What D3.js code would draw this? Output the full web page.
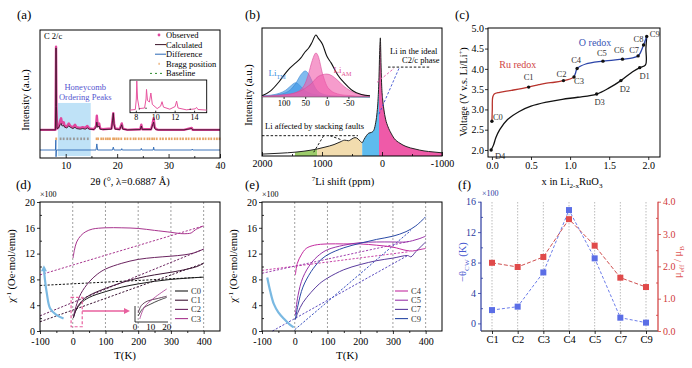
<!DOCTYPE html>
<html><head><meta charset="utf-8">
<script src="https://cdn.jsdelivr.net/npm/d3@7"></script>
<style>
body{margin:0;background:#fff;}
svg{display:block;}
</style></head><body>
<svg id="c" width="692" height="368"></svg>
<script>
// ================= DATA =================
// (a) XRD
const xrdTheta = [5,8.0,8.05,8.12,8.2,8.3,8.6,8.9,9.1,9.3,9.6,9.8,10.2,10.6,10.9,11.4,11.8,12.1,12.8,13.3,13.8,14.2,14.6,15.5,15.9,16.05,16.2,16.5,16.7,17.2,18.9,19.1,19.25,19.4,19.6,20.5,20.9,21.1,22,24.5,24.7,24.9,26.6,26.9,27.1,27.3,27.6,28,33,34.5,34.7,40];
const xrdObs   = [22,22,40,87,40,23,24,29,31,27,28,25,24.5,27,25,24,26,24,23.5,24,23.5,25,23,22.5,25,33,26,27,23,22.5,23,30,35,27,23,22.5,27,23,22,22.5,26,22.5,22.5,27,31,24,22.5,22,22,23.5,22,22];
const xrdCalc  = [22,22,40,86,40,23,23.5,26,27,25,25.5,24,23.5,25,24,23,24,23,22.5,23,22.5,23.5,22.5,22.2,24,28,24,25,22.5,22.2,22.5,29,35,26,22.5,22.2,26,22.5,22,22.2,25,22.2,22.2,26,28,23,22.2,22,22,23,22,22];
const diffTheta = [5,8.0,8.08,8.12,8.2,15.9,16.05,16.2,19.1,19.25,19.4,20.8,20.9,21.0,24.6,24.7,24.8,27.0,27.1,27.2,34.5,34.6,34.7,40];
const diffVal   = [6.25,6.25,14,1,6.25,6.25,11,6.25,6.25,8.5,6.25,6.25,7.3,6.25,6.25,7.5,6.25,6.25,8.5,6.25,6.25,7,6.25,6.25];
const braggPos = [8.15,9.0,9.6,10.3,10.9,11.6,12.3,13.0,13.6,14.3,16.0,16.3,16.9,17.3,17.8,18.2,18.6,19.2,19.5,19.9,20.3,20.8,21.5,22.0,22.6,23.2,23.6,24.2,24.7,25.3,25.9,26.3,26.8,27.2,27.7,28.4,28.9,29.5,30.1,30.6,31.2,31.7,32.3,32.8,33.4,33.9,34.5,35.0,35.6,36.1,36.7,37.2,37.8,38.3,38.9,39.4,39.9];
const honeyRange = [8.47, 14.86];
const insATheta = [7.4,7.95,8.05,8.1,8.18,8.35,8.9,9.05,9.1,9.2,9.4,9.55,9.7,10.2,10.55,10.7,10.85,11.5,12.05,12.2,12.35,13.2,14.1,14.25,14.4,15.3];
const insAInt   = [.03,.05,.4,1.0,.4,.08,.1,.4,.72,.35,.3,.6,.22,.08,.16,.31,.13,.06,.15,.33,.1,.04,.07,.12,.05,.03];
const aTicks = [10,20,30,40], aInsTicks = [8,10,12,14];
const aLegend = ['Observed','Calculated','Difference','Bragg position','Baseline'];

// (b) 7Li NMR
const specPpm = [2000,1700,1450,1300,1200,1080,950,800,700,620,560,500,450,400,360,330,300,260,220,180,140,110,85,65,50,40,32,27,22,15,5,-10,-30,-60,-100,-150,-200,-300,-400,-550,-700,-850,-1000];
const specInt = [1.5,2.2,3,3.8,4.5,5.5,7,9,11,12.5,12,13.5,14.5,13.5,11.5,10.5,13,16,18,18.5,20,25,33,45,62,80,90,93,85,70,55,45,37,29,23,18,14,10,7.5,5.5,4,3.2,2.5];
const greenRange = [1450,1080], tanRange = [1080,330], blueRange = [330,50], pinkRange = [50,-1000];
const insBPpm = [150,130,110,95,85,72,60,50,42,35,25,20,10,0,-10,-25,-40,-50,-60,-80,-100];
const insBEnv = [.02,.1,.25,.39,.47,.55,.63,.73,.79,.87,1.0,.95,.85,.66,.55,.36,.23,.16,.10,.04,.02];
const insBTm1 = [.02,.03,.06,.11,.17,.23,.17,.10,.07,.05,.035,.03,.02,.015,.01,.01,.005,.005,0,0,0];
const insBTm2 = [.01,.02,.04,.07,.11,.22,.36,.42,.37,.27,.13,.09,.05,.03,.02,.015,.01,.01,.01,.005,0];
const insBAm1 = [.01,.01,.02,.03,.04,.07,.12,.22,.38,.56,.71,.66,.38,.18,.10,.05,.03,.025,.02,.01,.01];
const insBAm2 = [.01,.02,.03,.04,.05,.07,.10,.14,.18,.22,.30,.33,.36,.37,.35,.27,.17,.12,.08,.04,.02];
const bTicks = [2000,1000,0,-1000], bInsTicks = [100,50,0,-50];

// (c) charge / discharge
const chargeRu = [[0,2.71],[0.005,3.0],[0.01,3.3],[0.03,3.38],[0.1,3.42],[0.25,3.47],[0.47,3.55],[0.6,3.61],[0.7,3.65],[0.8,3.67],[0.915,3.71],[1.0,3.75],[1.05,3.8]];
const chargeO  = [[1.05,3.8],[1.07,3.9],[1.09,4.01],[1.2,4.12],[1.42,4.19],[1.67,4.24],[1.8,4.27],[1.87,4.32],[1.9,4.4],[1.94,4.59],[1.98,4.8]];
const discharge = [[1.98,4.8],[1.97,4.5],[1.965,4.1],[1.89,4.03],[1.8,3.93],[1.65,3.71],[1.5,3.53],[1.34,3.38],[1.1,3.3],[0.9,3.25],[0.7,3.18],[0.5,3.08],[0.35,2.95],[0.2,2.75],[0.1,2.5],[0.05,2.3],[0.02,2.12],[-0.01,2.0]];
const cNames = ['C0','C1','C2','C3','C4','C5','C6','C7','C8','C9','D1','D2','D3','D4'];
const cX = [0,0.47,0.915,1.05,1.09,1.42,1.67,1.87,1.94,1.98,1.89,1.65,1.34,-0.01];
const cV = [2.71,3.55,3.71,3.8,4.01,4.19,4.24,4.32,4.59,4.8,4.03,3.71,3.38,2.0];
const cXTicks = [0,0.5,1,1.5,2], cYTicks = [2,2.5,3,3.5,4,4.5,5];

// (d) inverse susceptibility C0-C3
const dC0 = [[2,2.0],[10,3.2],[25,4.3],[50,5.2],[100,6.1],[150,6.8],[200,7.3],[250,7.7],[300,8.0],[350,8.2],[400,8.35]];
const dC1 = [[2,2.1],[10,3.3],[25,4.5],[50,5.5],[100,6.6],[150,7.5],[200,8.2],[250,8.7],[300,9.1],[350,9.6],[380,10.0],[400,10.5]];
const dC2 = [[2,2.2],[10,3.8],[25,5.8],[50,7.6],[75,8.8],[100,9.6],[150,10.5],[200,11.1],[250,11.4],[300,11.6],[340,11.8],[370,12.1],[400,12.7]];
const dC3 = [[1,11.3],[5,12.5],[12,13.8],[25,14.8],[40,15.4],[60,15.8],[100,16.0],[150,16.0],[200,15.9],[250,15.6],[300,15.3],[330,15.1],[350,15.1],[362,15.2],[375,15.7],[400,16.3]];
const dFit = [[[-100,7.06],[400,8.35]],[[-100,1.43],[400,10.5]],[[-100,2.35],[400,12.7]],[[-100,8.7],[400,16.3]]];
const dArrow = [[-28,1.94],[-50,2.5],[-69,3.5],[-79,5.8],[-85,8],[-88,9.9]];
const dInsC = [[[2,0.2],[5,0.45],[10,0.6],[15,0.72],[20,0.82]],[[2,0.3],[4,0.55],[8,0.7],[14,0.78],[20,0.86]],[[3,0.1],[6,0.5],[12,0.8],[20,1.1]]];
const dNames = ['C0','C1','C2','C3'];

// (e) inverse susceptibility C4-C9
const eC4 = [[2,8.7],[8,10.5],[20,11.8],[35,12.8],[60,13.3],[100,13.5],[150,13.5],[200,13.5],[250,13.3],[300,13.0],[340,12.5],[360,12.4],[380,12.6],[400,12.8]];
const eC5 = [[2,2.5],[10,5.5],[25,8.3],[50,10.5],[75,11.8],[100,12.6],[150,13.3],[200,13.7],[250,13.8],[300,13.8],[340,13.8],[360,14.0],[380,14.3],[400,14.7]];
const eC7 = [[2,1.8],[10,2.9],[25,4.4],[50,6.0],[75,7.3],[100,8.2],[150,9.5],[200,10.3],[250,10.9],[300,11.3],[345,11.7],[355,11.5],[370,12.3],[400,13.8]];
const eC9 = [[2,1.8],[10,4.0],[25,6.8],[50,9.2],[75,10.8],[100,11.8],[150,12.9],[200,13.6],[250,14.2],[300,14.7],[340,15.4],[370,16.3],[400,17.7]];
const eFit = [[[-100,9.4],[350,12.3]],[[-100,8.95],[350,13.9]],[[-68,0],[345,11.7]],[[0,0.2],[355,15.6]]];
const eArrow = [[-84,8.3],[-75,6.2],[-64,4.2],[-50,2.9],[-33,1.9],[-15,1.0],[-3,0.55]];
const eNames = ['C4','C5','C7','C9'];
const tTicks = [-100,0,100,200,300,400], chiTicks = [0,4,8,12,16,20];

// (f) Curie-Weiss fit
const fCats = ['C1','C2','C3','C4','C5','C7','C9'];
const fTheta = [1.75,2.2,6.7,14.9,8.55,0.75,0.1];
const fMu = [2.11,1.98,2.29,3.46,2.64,1.65,1.36];
const fLeftTicks = [0,4,8,12,16], fRightTicks = [0,1,2,3,4];

// ================= HELPERS =================
const FONT = "'Liberation Serif','Times New Roman',serif";
const svg = d3.select('#c');
const plain = d => String(d);
function rich(g, x, y, parts, size, o={}) {
  const t = g.append('text').attr('x',x).attr('y',y).attr('font-size',size).attr('font-family',FONT)
    .attr('fill',o.fill||'#000').attr('text-anchor',o.anchor||'middle');
  if (o.rotate) t.attr('transform',`rotate(${o.rotate},${x},${y})`);
  let shift = 0;
  parts.forEach(p => {
    const [s,k] = Array.isArray(p) ? p : [p,null];
    const target = k==='sub' ? size*0.28 : k==='sup' ? -size*0.38 : 0;
    const ts = t.append('tspan').text(s).attr('dy', target - shift);
    if (k) ts.attr('font-size', size*0.68);
    shift = target;
  });
  return t;
}
function drawAxis(g, axis, tr, fs, color='#000') {
  const a = g.append('g').attr('transform',tr).call(axis);
  a.select('.domain').remove();
  a.selectAll('line').attr('stroke',color).attr('stroke-width',0.8);
  a.selectAll('text').attr('font-size',fs).attr('font-family',FONT).attr('fill',color);
  return a;
}
function frame(g, x0,y0,x1,y1) {
  g.append('rect').attr('x',x0).attr('y',y0).attr('width',x1-x0).attr('height',y1-y0)
   .attr('fill','none').attr('stroke','#000').attr('stroke-width',1);
}
// panel tags
[['(a)',17,19],['(b)',245,19],['(c)',455,19],['(d)',16,189],['(e)',245,189],['(f)',458,189]].forEach(([s,x,y]) =>
  svg.append('text').attr('x',x).attr('y',y).attr('font-size',13).attr('font-family',FONT).text(s));

// ================= (a) =================
(function(){
  const g = svg.append('g');
  const x = d3.scaleLinear().domain([5,40]).range([40,220]);
  const y = d3.scaleLinear().domain([0,100]).range([158,30]);
  g.append('rect').attr('x',x(honeyRange[0])).attr('width',x(honeyRange[1])-x(honeyRange[0]))
    .attr('y',y(43)).attr('height',y(1.5)-y(43)).attr('fill','#bfe2f7');
  g.selectAll('.br').data(braggPos).join('rect').attr('x',d=>x(d)-0.9).attr('y',y(16)).attr('width',1.8)
    .attr('height',y(14)-y(16)).attr('fill',d=>(d>honeyRange[0]&&d<honeyRange[1])?'#9a9a9a':'#e8a565');
  const line = d3.line().x(d=>x(d[0])).y(d=>y(d[1]));
  g.append('path').datum(d3.zip(diffTheta,diffVal)).attr('d',line).attr('fill','none').attr('stroke','#2a68b4').attr('stroke-width',0.9);
  g.append('path').datum(d3.zip(xrdTheta,xrdObs)).attr('d',line).attr('fill','none').attr('stroke','#e0479e').attr('stroke-width',2.4).attr('stroke-linejoin','round');
  g.append('path').datum(d3.zip(xrdTheta,xrdCalc)).attr('d',line).attr('fill','none').attr('stroke','#3b1428').attr('stroke-width',0.9);
  frame(g,40,30,220,158);
  drawAxis(g, d3.axisBottom(x).tickValues(aTicks).tickSize(-4).tickPadding(4), 'translate(0,158)', 10);
  drawAxis(g, d3.axisBottom(x).tickValues([15,25,35]).tickSize(-2).tickFormat(''), 'translate(0,158)', 10);
  g.append('text').attr('x',44).attr('y',39).attr('font-size',8.5).attr('font-family',FONT).text('C 2/c');
  // honeycomb text
  g.append('text').attr('x',x(13.8)).attr('y',90).attr('text-anchor','middle').attr('font-size',8.5).attr('font-family',FONT).attr('fill','#5656d0').text('Honeycomb');
  g.append('text').attr('x',x(13.8)).attr('y',100).attr('text-anchor','middle').attr('font-size',8.5).attr('font-family',FONT).attr('fill','#5656d0').text('Ordering Peaks');
  // legend
  aLegend.forEach((s,i)=>{
    const ly = 35 + i*9.6;
    if (i===0) g.append('circle').attr('cx',159).attr('cy',ly).attr('r',1.4).attr('fill','#e0479e');
    if (i===1) g.append('line').attr('x1',155).attr('x2',166).attr('y1',ly).attr('y2',ly).attr('stroke','#3b1428');
    if (i===2) g.append('line').attr('x1',155).attr('x2',166).attr('y1',ly).attr('y2',ly).attr('stroke','#2a68b4');
    if (i===3) g.append('rect').attr('x',158.5).attr('y',ly-1).attr('width',1.2).attr('height',2).attr('fill','#e8a565');
    if (i===4) g.append('line').attr('x1',150).attr('x2',164).attr('y1',ly).attr('y2',ly).attr('stroke','#2a8a2a').attr('stroke-dasharray','2,3');
    g.append('text').attr('x',166).attr('y',ly+3).attr('font-size',8.5).attr('font-family',FONT).text(s);
  });
  // inset
  const ix = d3.scaleLinear().domain([7.4,15.3]).range([130,206.7]);
  const iy = d3.scaleLinear().domain([0,1]).range([111,81]);
  g.append('rect').attr('x',130).attr('y',80).attr('width',76.7).attr('height',32.7).attr('fill','#fff').attr('stroke','#000').attr('stroke-width',0.9);
  g.append('path').datum(d3.zip(insATheta,insAInt)).attr('d',d3.line().x(d=>ix(d[0])).y(d=>iy(d[1]))).attr('fill','none').attr('stroke','#e8559f').attr('stroke-width',1);
  [[8.36,.07],[9.05,.09],[13.6,.06]].forEach(p=>g.append('circle').attr('cx',ix(p[0])).attr('cy',iy(p[1])).attr('r',0.7).attr('fill','#333'));
  drawAxis(g, d3.axisBottom(ix).tickValues(aInsTicks).tickSize(-2).tickPadding(2), 'translate(0,112.7)', 8);
  rich(g, 29, 100, ['Intensity (a.u.)'], 10.5, {rotate:-90});
  rich(g, 130, 185, ['2θ (°, λ=0.6887 Å)'], 10.5);
})();

// ================= (b) =================
(function(){
  const g = svg.append('g');
  const x = d3.scaleLinear().domain([2000,-1000]).range([262,442]);
  const y = d3.scaleLinear().domain([0,100]).range([156,29]);
  const pts = d3.zip(specPpm,specInt);
  const area = d3.area().x(d=>x(d[0])).y0(y(0)).y1(d=>y(d[1])).curve(d3.curveMonotoneX);
  const seg = r => pts.filter(d=>d[0]<=r[0] && d[0]>=r[1]);
  [[greenRange,'#9ccc6a'],[tanRange,'#f2dcae'],[blueRange,'#5ebbee'],[pinkRange,'#ef5aa8']].forEach(([r,c])=>
    g.append('path').datum(seg(r)).attr('d',area).attr('fill',c));
  g.append('path').datum(pts).attr('d',d3.line().x(d=>x(d[0])).y(d=>y(d[1])).curve(d3.curveMonotoneX))
    .attr('fill','none').attr('stroke','#222').attr('stroke-width',1);
  frame(g,262,28,442,156);
  drawAxis(g, d3.axisBottom(x).tickValues(bTicks).tickSize(-4).tickPadding(4).tickFormat(plain), 'translate(0,156)', 10);
  drawAxis(g, d3.axisBottom(x).tickValues([1500,500,-500]).tickSize(-2).tickFormat(''), 'translate(0,156)', 10);
  // annotations
  const dl = (a,b,c) => g.append('line').attr('x1',x(a[0])).attr('y1',y(a[1])).attr('x2',x(b[0])).attr('y2',y(b[1]))
      .attr('stroke',c).attr('stroke-width',0.9).attr('stroke-dasharray','2.5,1.8');
  g.append('text').attr('x',x(-133)).attr('y',y(80)).attr('font-size',8.5).attr('font-family',FONT).text('Li in the ideal');
  g.append('text').attr('x',x(-333)).attr('y',y(73)).attr('font-size',8.5).attr('font-family',FONT).text('C2/c phase');
  dl([-100,70],[-800,70],'#000');
  dl([83,58],[-200,69],'#e05aa8');
  dl([50,33],[-283,69],'#3a4fd0');
  g.append('text').attr('x',x(1950)).attr('y',y(21)).attr('font-size',8.5).attr('font-family',FONT).text('Li affected by stacking faults');
  dl([2000,16],[400,16],'#000');
  dl([972,16],[1138,3],'#000');
  dl([867,16],[667,12.6],'#000');
  // inset
  const ix = d3.scaleLinear().domain([150,-100]).range([262,370]);
  const iy = d3.scaleLinear().domain([0,1]).range([97,35]);
  const iarea = d3.area().x(d=>ix(d[0])).y0(iy(0)).y1(d=>iy(d[1])).curve(d3.curveMonotoneX);
  const iline = d3.line().x(d=>ix(d[0])).y(d=>iy(d[1])).curve(d3.curveMonotoneX);
  [[insBTm1,'rgba(60,150,230,0.65)','#3a86d0'],[insBTm2,'rgba(60,150,230,0.65)','#3a86d0'],
   [insBAm1,'rgba(240,90,170,0.6)','#d84c9a'],[insBAm2,'rgba(240,90,170,0.6)','#d84c9a']].forEach(([v,f,s])=>{
    const p = d3.zip(insBPpm,v);
    g.append('path').datum(p).attr('d',iarea).attr('fill',f);
    g.append('path').datum(p).attr('d',iline).attr('fill','none').attr('stroke',s).attr('stroke-width',0.6);
  });
  g.append('path').datum(d3.zip(insBPpm,insBEnv)).attr('d',iline).attr('fill','none').attr('stroke','#111').attr('stroke-width',1.1);
  g.append('line').attr('x1',262).attr('x2',370).attr('y1',97).attr('y2',97).attr('stroke','#555').attr('stroke-width',0.6);
  drawAxis(g, d3.axisBottom(ix).tickValues(bInsTicks).tickSize(2).tickPadding(1).tickFormat(plain), 'translate(0,97)', 8.5);
  rich(g, x(1750), y(63), ['Li',['TM','sub']], 9, {fill:'#3a8ee0'});
  rich(g, x(660), y(65), ['Li',['AM','sub']], 9, {fill:'#e0508f'});
  rich(g, 252, 95, ['Intensity (a.u.)'], 10.5, {rotate:-90});
  rich(g, 343, 185, [['7','sup'],'Li shift (ppm)'], 10.5);
})();

// ================= (c) =================
(function(){
  const g = svg.append('g');
  const x = d3.scaleLinear().domain([-0.05,2.15]).range([488,660]);
  const y = d3.scaleLinear().domain([1.827,5.0]).range([157,28.3]);
  const line = d3.line().x(d=>x(d[0])).y(d=>y(d[1])).curve(d3.curveCatmullRom.alpha(0.5));
  g.append('path').datum(discharge).attr('d',line).attr('fill','none').attr('stroke','#111').attr('stroke-width',1.3);
  g.append('path').datum(chargeRu).attr('d',line).attr('fill','none').attr('stroke','#b8332c').attr('stroke-width',1.3);
  g.append('path').datum(chargeO).attr('d',line).attr('fill','none').attr('stroke','#2b44a8').attr('stroke-width',1.3);
  const off = [[6,-4],[0,-10],[-2,-7],[5,4],[-1,-8.5],[-1,-8.5],[-3.5,-9],[-4,-6],[-5,-6],[8,-2],[5,8],[4,8],[3,8],[9,6]];
  cNames.forEach((n,i)=>{
    g.append('circle').attr('cx',x(cX[i])).attr('cy',y(cV[i])).attr('r',1.7).attr('fill','#111');
    g.append('text').attr('x',x(cX[i])+off[i][0]).attr('y',y(cV[i])+off[i][1]+3).attr('text-anchor','middle')
      .attr('font-size',8.5).attr('font-family',FONT).attr('fill','#333').text(n);
  });
  g.append('text').attr('x',x(0.33)).attr('y',y(4.01)).attr('text-anchor','middle').attr('font-size',10).attr('font-family',FONT).attr('fill','#d04545').text('Ru redox');
  g.append('text').attr('x',x(1.32)).attr('y',y(4.57)).attr('text-anchor','middle').attr('font-size',10).attr('font-family',FONT).attr('fill','#3a55b5').text('O redox');
  frame(g,488,28,660,157);
  drawAxis(g, d3.axisBottom(x).tickValues(cXTicks).tickSize(3).tickPadding(2).tickFormat(d3.format('.1f')), 'translate(0,157)', 10);
  drawAxis(g, d3.axisLeft(y).tickValues(cYTicks).tickSize(3).tickPadding(1).tickFormat(d3.format('.1f')), 'translate(488,0)', 10);
  rich(g, 467, 92, ['Voltage (V v.s. Li/Li',['+','sup'],')'], 10, {rotate:-90});
  rich(g, 572, 185, ['x in Li',['2-x','sub'],'RuO',['3','sub']], 10.5);
})();

// ================= (d) & (e) =================
function chiPanel(L, R, curves, colors, fits, fitColors, names, arrow, legendX) {
  const g = svg.append('g');
  const x = d3.scaleLinear().domain([-100,450]).range([L,R]);
  const y = d3.scaleLinear().domain([0,20]).range([331,202]);
  tTicks.filter(t=>t>=0).forEach(t=>g.append('line').attr('x1',x(t)).attr('x2',x(t)).attr('y1',202).attr('y2',331)
    .attr('stroke','#888').attr('stroke-width',0.8).attr('stroke-dasharray','2,2'));
  const line = d3.line().x(d=>x(d[0])).y(d=>y(d[1])).curve(d3.curveCatmullRom.alpha(0.5));
  const lin = d3.line().x(d=>x(d[0])).y(d=>y(d[1]));
  fits.forEach((f,i)=>g.append('path').datum(f).attr('d',lin).attr('fill','none').attr('stroke',fitColors[i]).attr('stroke-width',1).attr('stroke-dasharray','2.2,1.6'));
  curves.forEach((c,i)=>g.append('path').datum(c).attr('d',line).attr('fill','none').attr('stroke',colors[i]).attr('stroke-width',1));
  g.append('path').datum(arrow).attr('d',line).attr('fill','none').attr('stroke','#7ab9e2').attr('stroke-width',2.2);
  names.forEach((n,i)=>{
    const ly = 291 + i*9.2;
    g.append('line').attr('x1',legendX).attr('x2',legendX+13).attr('y1',ly).attr('y2',ly).attr('stroke',colors[i]).attr('stroke-width',1.1);
    g.append('text').attr('x',legendX+16).attr('y',ly+3).attr('font-size',8.5).attr('font-family',FONT).attr('fill','#333').text(n);
  });
  frame(g,L,202,R,331);
  drawAxis(g, d3.axisBottom(x).tickValues(tTicks).tickSize(3).tickPadding(3.5).tickFormat(plain), 'translate(0,331)', 10);
  drawAxis(g, d3.axisBottom(x).tickValues([-50,50,150,250,350]).tickSize(2).tickFormat(''), 'translate(0,331)', 10);
  drawAxis(g, d3.axisLeft(y).tickValues(chiTicks).tickSize(3).tickPadding(2).tickFormat(plain), `translate(${L},0)`, 10);
  drawAxis(g, d3.axisLeft(y).tickValues([2,6,10,14,18]).tickSize(-2).tickFormat(''), `translate(${L},0)`, 10);
  g.append('text').attr('x',L).attr('y',197).attr('font-size',8).attr('font-family',FONT).text('×100');
  rich(g, L-25, 266, ['χ',['-1','sup'],' (Oe·mol/emu)'], 10.5, {rotate:-90});
  rich(g, (L+R)/2-5, 359, ['T(K)'], 11);
  return {g,x,y};
}
(function(){
  const dCol = ['#1a1a1a','#3d1535','#6b2460','#a8358e'];
  const P = chiPanel(40,220,[dC0,dC1,dC2,dC3],dCol,dFit,['#111','#3d1535','#6b2460','#a8358e'],dNames,dArrow,175);
  const {g,x,y} = P;
  const tip = dArrow[dArrow.length-1];
  g.append('path').attr('d',`M${x(tip[0])},${y(tip[1])-2} l-3,6 l6,0 z`).attr('fill','#7ab9e2');
  g.append('rect').attr('x',x(-5)).attr('y',y(5.2)).attr('width',x(29)-x(-5)).attr('height',y(0.66)-y(5.2))
    .attr('fill','none').attr('stroke','#e8609e').attr('stroke-width',1.2).attr('stroke-dasharray','3,2');
  g.append('line').attr('x1',x(29)).attr('x2',x(168)).attr('y1',y(3.1)).attr('y2',y(3.1)).attr('stroke','#e8609e').attr('stroke-width',1.3);
  g.append('path').attr('d',`M${x(175)},${y(3.1)} l-6,-3 l0,6 z`).attr('fill','#e8609e');
  const ix = d3.scaleLinear().domain([0,20]).range([135,166.7]);
  const iy = d3.scaleLinear().domain([0,1]).range([322,292]);
  g.append('path').attr('d',`M135,306 L135,322 L168,322`).attr('fill','none').attr('stroke','#000').attr('stroke-width',0.8);
  dInsC.forEach((c,i)=>g.append('path').datum(c).attr('d',d3.line().x(d=>ix(d[0])).y(d=>iy(d[1])).curve(d3.curveCatmullRom))
    .attr('fill','none').attr('stroke',['#1a1a1a','#3d1535','#a8358e'][i]).attr('stroke-width',0.8));
  [0,10,20].forEach(t=>g.append('text').attr('x',ix(t)).attr('y',330).attr('text-anchor','middle').attr('font-size',9).attr('font-family',FONT).text(t));
})();
(function(){
  const eCol = ['#c42ca0','#9a34a8','#5b3c9e','#2a4aa6'];
  chiPanel(262,442,[eC4,eC5,eC7,eC9],eCol,eFit,['#c844a8','#a040b0','#5b4cc0','#3a52c0'],eNames,eArrow,395);
})();

// ================= (f) =================
(function(){
  const g = svg.append('g');
  const x = d3.scalePoint().domain(fCats).range([492,646]);
  const yl = d3.scaleLinear().domain([-1,16]).range([331,201.7]);
  const yr = d3.scaleLinear().domain([0,4]).range([331,201.7]);
  fCats.forEach(c=>g.append('line').attr('x1',x(c)).attr('x2',x(c)).attr('y1',202).attr('y2',331)
    .attr('stroke','#aaa').attr('stroke-width',0.8).attr('stroke-dasharray','1.5,1.5'));
  const blue='#5b6ee6', red='#e04a4a';
  g.append('path').datum(d3.zip(fCats,fTheta)).attr('d',d3.line().x(d=>x(d[0])).y(d=>yl(d[1])))
    .attr('fill','none').attr('stroke',blue).attr('stroke-width',0.9).attr('stroke-dasharray','3,2');
  g.append('path').datum(d3.zip(fCats,fMu)).attr('d',d3.line().x(d=>x(d[0])).y(d=>yr(d[1])))
    .attr('fill','none').attr('stroke','#c83a3a').attr('stroke-width',0.9).attr('stroke-dasharray','4,2');
  g.selectAll('.sb').data(d3.zip(fCats,fTheta)).join('rect').attr('x',d=>x(d[0])-3).attr('y',d=>yl(d[1])-3).attr('width',6).attr('height',6).attr('fill',blue);
  g.selectAll('.sr').data(d3.zip(fCats,fMu)).join('rect').attr('x',d=>x(d[0])-3).attr('y',d=>yr(d[1])-3).attr('width',6).attr('height',6).attr('fill',red);
  g.append('line').attr('x1',481).attr('x2',658).attr('y1',331).attr('y2',331).attr('stroke','#000');
  g.append('line').attr('x1',481).attr('x2',481).attr('y1',201.7).attr('y2',331).attr('stroke','#2a3aa0').attr('stroke-width',1.2);
  g.append('line').attr('x1',658).attr('x2',658).attr('y1',201.7).attr('y2',331).attr('stroke','#d03a3a').attr('stroke-width',1.2);
  drawAxis(g, d3.axisBottom(x).tickSize(3).tickPadding(2), 'translate(0,331)', 10.5);
  drawAxis(g, d3.axisLeft(yl).tickValues(fLeftTicks).tickSize(3).tickPadding(2), 'translate(481,0)', 10, '#2a3aa0');
  drawAxis(g, d3.axisLeft(yl).tickValues([2,6,10,14]).tickSize(-2).tickFormat(''), 'translate(481,0)', 10, '#2a3aa0');
  drawAxis(g, d3.axisRight(yr).tickValues(fRightTicks).tickSize(3).tickPadding(2), 'translate(658,0)', 10, '#d03a3a');
  drawAxis(g, d3.axisRight(yr).tickValues([0.5,1.5,2.5,3.5]).tickSize(-2).tickFormat(''), 'translate(658,0)', 10, '#d03a3a');
  g.append('text').attr('x',482).attr('y',196).attr('font-size',8).attr('font-family',FONT).attr('fill','#2a3aa0').text('×100');
  rich(g, 466, 262, ['−θ',['CW','sub'],' (K)'], 10.5, {rotate:-90, fill:'#4a5ad0'});
  rich(g, 681, 262, ['μ',['eff','sub'],' / μ',['B','sub']], 10.5, {rotate:-90, fill:'#e05a5a'});
})();
</script>
</body></html>
